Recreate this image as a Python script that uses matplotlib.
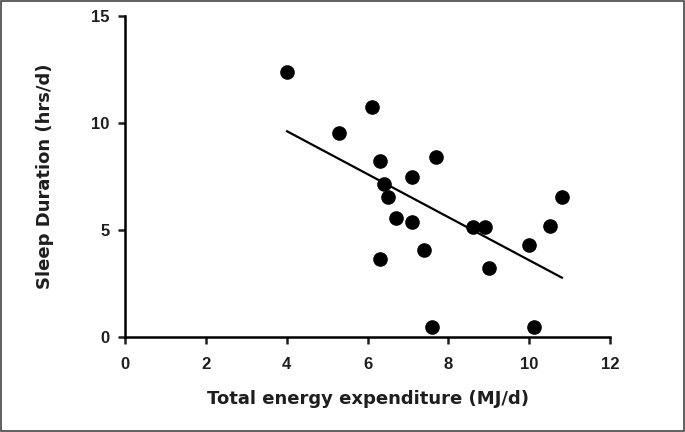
import matplotlib
matplotlib.use("Agg")
import matplotlib.pyplot as plt
import numpy as np
from matplotlib.patches import Rectangle

# energy expenditure (MJ/d) vs sleep duration (hrs/d)
energy = np.array([4.01, 5.29, 6.10, 6.31, 6.41, 6.50, 6.70, 6.31, 7.10, 7.10,
                   7.40, 7.70, 7.60, 8.60, 8.90, 9.00, 9.99, 10.11, 10.51, 10.81])
sleep = np.array([12.35, 9.52, 10.71, 8.21, 7.11, 6.52, 5.52, 3.62, 7.45, 5.34,
                  4.03, 8.40, 0.46, 5.13, 5.13, 3.20, 4.28, 0.46, 5.18, 6.53])
xticks = [0, 2, 4, 6, 8, 10, 12]
yticks = [0, 5, 10, 15]

plt.rcParams['font.family'] = ['Liberation Sans', 'DejaVu Sans']
ink = '#1e1e1e'

fig = plt.figure(figsize=(6.85, 4.32), dpi=100)
ax = fig.add_axes([0.1825, 0.221, 0.708, 0.743])

ax.plot(energy, sleep, 'o', color='black', markersize=9.5, clip_on=False, zorder=3)

# linear regression line
slope, icpt = np.polyfit(energy, sleep, 1)
xl = np.array([energy.min(), energy.max()])
ax.plot(xl, slope * xl + icpt, color='black', linewidth=1.6)

ax.set_xlim(0, 12)
ax.set_ylim(0, 15)
ax.set_xticks(xticks)
ax.set_yticks(yticks)
for s in ['top', 'right']:
    ax.spines[s].set_visible(False)
for s in ['left', 'bottom']:
    ax.spines[s].set_linewidth(1.8)
ax.tick_params(width=1.8, length=5, labelsize=12, colors=ink)
ax.tick_params(axis='y', pad=6)
ax.tick_params(axis='x', pad=10)
for lab in ax.get_xticklabels() + ax.get_yticklabels():
    lab.set_fontweight('bold')

# wide lettering like the original
lab_font = dict(family='DejaVu Sans', fontsize=13, fontweight='bold', color=ink)
ax.set_xlabel('Total energy expenditure (MJ/d)', labelpad=13, **lab_font)
ax.set_ylabel('Sleep Duration (hrs/d)', labelpad=27, **lab_font)

# outer frame
fig.patches.append(Rectangle((0.002, 0.003), 0.996, 0.994, transform=fig.transFigure,
                             fill=False, edgecolor='#444444', linewidth=1.2))

fig.savefig('out.png', dpi=100)
